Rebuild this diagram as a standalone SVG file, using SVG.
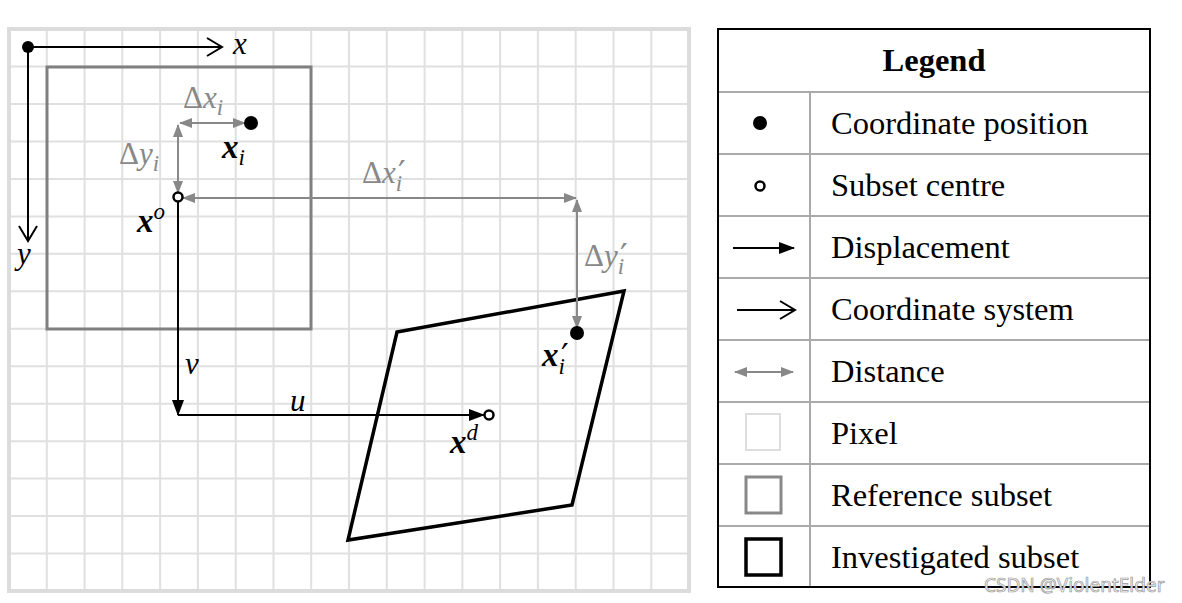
<svg xmlns="http://www.w3.org/2000/svg" width="1182" height="603" viewBox="0 0 1182 603">
<style>
.grid{stroke:#e0e0e0;stroke-width:2;fill:none}
.gridb{stroke:#dcdcdc;stroke-width:4;fill:none}
.dist{stroke:#888;stroke-width:2;fill:none}
.disp{stroke:#000;stroke-width:2;fill:none}
.axis{stroke:#000;stroke-width:2;fill:none}
.mv{font-family:"Liberation Serif","DejaVu Serif",serif;font-style:italic;font-size:31px}
.mb{font-family:"Liberation Serif","DejaVu Serif",serif;font-style:italic;font-weight:bold;font-size:33px}
.pr{font-family:"DejaVu Serif",serif;font-style:normal;font-weight:normal;font-size:34px}
.gl{fill:#888}
.lg{font-family:"Liberation Serif","Times New Roman",serif;font-size:32.5px;fill:#000}
.lgl{stroke:#aaa;stroke-width:2}
</style>
<defs>
<marker id="dh" markerUnits="userSpaceOnUse" markerWidth="14" markerHeight="10" refX="12" refY="5" orient="auto-start-reverse" viewBox="0 0 14 10">
<path d="M0,0 L13,5 L0,10 Z" fill="#888"/>
</marker>
<marker id="bh" markerUnits="userSpaceOnUse" markerWidth="16" markerHeight="12" refX="15" refY="6" orient="auto" viewBox="0 0 16 12">
<path d="M0,0 L16,6 L0,12 Z" fill="#000"/>
</marker>
<marker id="ch" markerUnits="userSpaceOnUse" markerWidth="18" markerHeight="20" refX="16" refY="10" orient="auto" viewBox="0 0 18 20">
<path d="M1,1 L16,10 L1,19" fill="none" stroke="#000" stroke-width="2"/>
</marker>
</defs>
<rect width="1182" height="603" fill="#fff"/>
<g id="pixel-grid">
<path class="grid" d="M46.8,29V591M84.6,29V591M122.3,29V591M160.1,29V591M197.9,29V591M235.7,29V591M273.5,29V591M311.2,29V591M349,29V591M386.8,29V591M424.6,29V591M462.4,29V591M500.1,29V591M537.9,29V591M575.7,29V591M613.5,29V591M651.3,29V591"/>
<path class="grid" d="M9,66.5H689M9,103.9H689M9,141.4H689M9,178.9H689M9,216.4H689M9,253.8H689M9,291.3H689M9,328.8H689M9,366.2H689M9,403.7H689M9,441.2H689M9,478.6H689M9,516.1H689M9,553.6H689"/>
<rect class="gridb" x="9" y="29" width="680" height="562"/>
</g>
<g id="reference-subset">
<rect x="47" y="67" width="264" height="262" fill="none" stroke="#808080" stroke-width="3"/>
</g>
<g id="investigated-subset">
<polygon points="397,332 624,291 572,505 348,540" fill="none" stroke="#000" stroke-width="3.5" stroke-linejoin="miter"/>
</g>
<g id="connectors">
<path class="axis" d="M28,47H222" marker-end="url(#ch)"/>
<path class="axis" d="M28,47V241" marker-end="url(#ch)"/>
<path class="dist" d="M180,123H245" marker-start="url(#dh)" marker-end="url(#dh)"/>
<path class="dist" d="M178,125V193" marker-start="url(#dh)" marker-end="url(#dh)"/>
<path class="dist" d="M183,198H576" marker-start="url(#dh)" marker-end="url(#dh)"/>
<path class="dist" d="M577,200V328" marker-start="url(#dh)" marker-end="url(#dh)"/>
<path class="disp" d="M178,202V415" marker-end="url(#bh)"/>
<path class="disp" d="M178,415H484" marker-end="url(#bh)"/>
</g>
<g id="origin">
<circle cx="28" cy="47" r="6" fill="#000"/>
<text class="mv" x="233" y="54">x</text>
<text class="mv" x="17" y="264">y</text>
</g>
<g id="point-xi">
<circle cx="251" cy="123" r="7" fill="#000"/>
<text class="mb" x="222" y="158">x<tspan font-size="23" dy="7" font-weight="normal">i</tspan></text>
</g>
<g id="centre-xo">
<circle cx="178" cy="197" r="4.5" fill="#fff" stroke="#000" stroke-width="2.5"/>
<text class="mb" x="137" y="232">x<tspan font-size="23" dy="-13" font-weight="normal">o</tspan></text>
</g>
<g id="point-xi-prime">
<circle cx="577" cy="333" r="7" fill="#000"/>
<text class="mb" x="542" y="366">x<tspan font-size="23" dy="8" font-weight="normal">i</tspan><tspan class="pr" dx="-4" dy="-6">′</tspan></text>
</g>
<g id="centre-xd">
<circle cx="489" cy="415" r="4.5" fill="#fff" stroke="#000" stroke-width="2.5"/>
<text class="mb" x="450" y="453">x<tspan font-size="23" dy="-13" font-weight="normal">d</tspan></text>
</g>
<g id="labels">
<text class="mv gl" x="183" y="108"><tspan font-style="normal">Δ</tspan>x<tspan font-size="23" dy="7">i</tspan></text>
<text class="mv gl" x="119" y="164"><tspan font-style="normal">Δ</tspan>y<tspan font-size="23" dy="7">i</tspan></text>
<text class="mv gl" x="362" y="183"><tspan font-style="normal">Δ</tspan>x<tspan font-size="23" dy="8">i</tspan><tspan class="pr" dx="-4" dy="-6">′</tspan></text>
<text class="mv gl" x="584" y="266"><tspan font-style="normal">Δ</tspan>y<tspan font-size="23" dy="8">i</tspan><tspan class="pr" dx="-4" dy="-6">′</tspan></text>
<text class="mv" x="185" y="374">v</text>
<text class="mv" x="290" y="411">u</text>
</g>
<g id="legend">
<rect x="718" y="29" width="432" height="558" fill="#fff" stroke="none"/>
<path class="lgl" d="M718,92H1150M718,154H1150M718,216H1150M718,278H1150M718,340H1150M718,402H1150M718,464H1150M718,526H1150M810,92V587"/>
<rect x="718" y="29" width="432" height="558" fill="none" stroke="#000" stroke-width="2"/>
<text class="lg" x="934" y="71" text-anchor="middle" font-weight="bold">Legend</text>
<circle cx="760" cy="123" r="7" fill="#000"/>
<text class="lg" x="831" y="134">Coordinate position</text>
<circle cx="760" cy="186" r="4.5" fill="#fff" stroke="#000" stroke-width="2.5"/>
<text class="lg" x="831" y="196">Subset centre</text>
<path class="disp" d="M733,248H794" marker-end="url(#bh)"/>
<text class="lg" x="831" y="258">Displacement</text>
<path class="axis" d="M737,310H795" marker-end="url(#ch)"/>
<text class="lg" x="831" y="320">Coordinate system</text>
<path class="dist" d="M735,372H793" marker-start="url(#dh)" marker-end="url(#dh)"/>
<text class="lg" x="831" y="382">Distance</text>
<rect x="746" y="414" width="34" height="36" fill="none" stroke="#ddd" stroke-width="2"/>
<text class="lg" x="831" y="444">Pixel</text>
<rect x="746" y="477" width="35" height="36" fill="none" stroke="#888" stroke-width="3"/>
<text class="lg" x="831" y="506">Reference subset</text>
<rect x="746" y="539" width="35" height="36" fill="none" stroke="#000" stroke-width="3.5"/>
<text class="lg" x="831" y="568">Investigated subset</text>
</g>
<text x="984" y="592" font-family="Noto Sans, DejaVu Sans, sans-serif" font-size="19" fill="#f4f4f4" stroke="#999" stroke-width="0.7">CSDN @ViolentElder</text>
</svg>
